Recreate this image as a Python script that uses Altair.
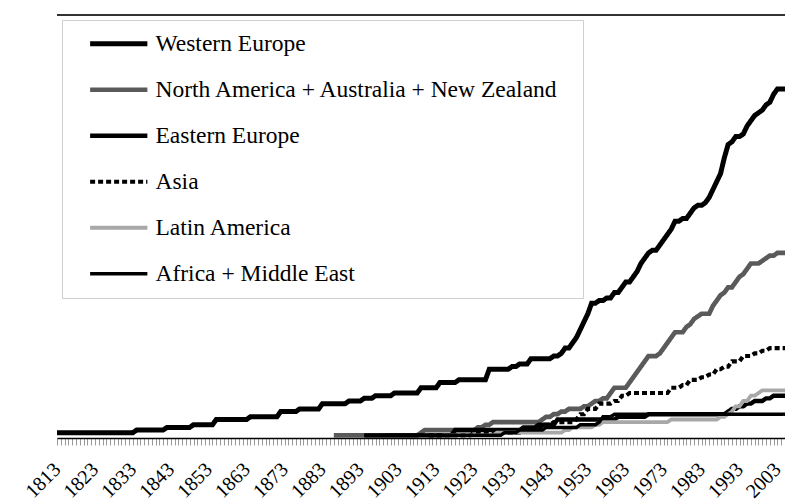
import altair as alt
import pandas as pd

series = ["Western Europe", "North America + Australia + New Zealand", "Eastern Europe",
          "Asia", "Latin America", "Africa + Middle East"]
colors = ["#000000", "#5a5a5a", "#000000", "#000000", "#a8a8a8", "#000000"]
widths = [5, 3.5, 3.5, 1.2, 4, 1.4]
dashes = [[1, 0], [1, 0], [1, 0], [5, 3], [1, 0], [1, 0]]

we_years = [1813, 1834, 1842, 1849, 1855, 1864, 1872, 1877, 1883, 1890, 1894, 1897, 1902, 1909,
            1914, 1919, 1927, 1933, 1935, 1938, 1944, 1946, 1947, 1949, 1950, 1951, 1952, 1953,
            1954, 1956, 1958, 1960, 1962, 1963, 1965, 1966, 1967, 1968, 1969, 1970, 1972, 1973,
            1974, 1975, 1976, 1978, 1980, 1981, 1982, 1984, 1985, 1986, 1987, 1988, 1989, 1990,
            1991, 1992, 1994, 1995, 1996, 1997, 1998, 1999, 2000, 2001, 2002, 2003]
we_vals = [2, 3, 4, 5, 7, 8, 10, 11, 13, 14, 15, 16, 17, 19,
           21, 22, 26, 27, 28, 30, 31, 32, 34, 36, 38, 41, 44, 47,
           51, 52, 53, 55, 57, 59, 61, 63, 66, 68, 70, 71, 73, 75,
           77, 79, 82, 83, 85, 87, 88, 89, 91, 94, 97, 100, 106, 111,
           112, 114, 115, 118, 120, 122, 123, 124, 126, 127, 130, 132]

na_years = [1886, 1909, 1910, 1924, 1926, 1928, 1941, 1942, 1944, 1946, 1948, 1952, 1954, 1955,
            1957, 1959, 1960, 1964, 1965, 1966, 1967, 1968, 1969, 1972, 1973, 1974, 1975, 1976,
            1979, 1980, 1981, 1982, 1983, 1986, 1987, 1988, 1989, 1990, 1992, 1993, 1994, 1995,
            1996, 1999, 2000, 2001, 2003]
na_vals = [1, 2, 3, 4, 5, 6, 7, 8, 9, 10, 11, 12, 13, 14,
           15, 17, 19, 21, 23, 25, 27, 29, 31, 32, 34, 36, 38, 40,
           42, 43, 45, 46, 47, 50, 52, 54, 55, 57, 59, 61, 62, 64,
           66, 67, 68, 69, 70]

ee_years = [1894, 1918, 1936, 1940, 1945, 1961, 1969, 1990, 1991, 1993, 1995, 1997, 2000, 2002]
ee_vals = [1, 3, 4, 5, 7, 8, 9, 10, 11, 12, 13, 14, 15, 16]

asia_years = [1911, 1923, 1937, 1941, 1944, 1950, 1951, 1953, 1956, 1960, 1962, 1964, 1975,
              1978, 1980, 1983, 1985, 1987, 1989, 1991, 1994, 1997, 1999, 2001]
asia_vals = [1, 2, 3, 5, 6, 7, 9, 11, 13, 14, 16, 17, 19,
             20, 22, 23, 24, 26, 27, 29, 31, 32, 33, 34]

la_years = [1915, 1929, 1947, 1949, 1955, 1957, 1975, 1988, 1990, 1991, 1992, 1994, 1996, 1998, 1999]
la_vals = [1, 2, 3, 4, 5, 6, 7, 8, 9, 10, 12, 14, 16, 17, 18]

af_years = [1900, 1931, 1935, 1942, 1951, 1956, 1957, 1960]
af_vals = [1, 2, 3, 4, 5, 6, 8, 9]

END_YEAR = 2006
X_MAX = 2005
year_ticks = list(range(1813, 2006))
y_ticks = [0, 20, 40, 60, 80, 100, 120, 140, 160]

# yearly polyline, as a spreadsheet draws it: a value holds until the year before it changes
rows = []
for name, yrs, vals in zip(series,
                           [we_years, na_years, ee_years, asia_years, la_years, af_years],
                           [we_vals, na_vals, ee_vals, asia_vals, la_vals, af_vals]):
    for i, (yr, v) in enumerate(zip(yrs, vals)):
        if i > 0 and yr - 1 > yrs[i - 1]:
            rows.append({"series": name, "year": yr - 1, "value": vals[i - 1]})
        rows.append({"series": name, "year": yr, "value": v})
    if yrs[-1] < END_YEAR:
        rows.append({"series": name, "year": END_YEAR, "value": vals[-1]})
df = pd.DataFrame(rows)

FONT = "Liberation Serif"

x_enc = alt.X("year:Q",
              scale=alt.Scale(domain=[1813, X_MAX], nice=False, zero=False),
              axis=alt.Axis(values=year_ticks,
                            labelExpr="(datum.value - 1813) % 10 == 0 ? '' + datum.value : ''",
                            labelAngle=-45, labelAlign="right", labelBaseline="middle",
                            labelPadding=21, tickSize=7, tickColor="#9a9a9a", tickWidth=1,
                            domainColor="#000000", domainWidth=1.5, grid=False, title=None,
                            labelFont=FONT, labelFontSize=20, labelColor="#000000",
                            labelOverlap=False, labelFlush=False))
y_enc = alt.Y("value:Q",
              scale=alt.Scale(domain=[0, 160], nice=False),
              axis=alt.Axis(values=y_ticks, tickSize=5, tickColor="#000000", labelPadding=7,
                            domainColor="#222222", domainWidth=2, grid=False, title=None,
                            labelFont=FONT, labelFontSize=22, labelColor="#000000"))

legend = alt.Legend(title="\u00a0", titleOrient="right", titlePadding=12, titleFontSize=8,
                    orient="none", legendX=5, legendY=5,
                    symbolType="M-4,0H4", symbolSize=205, symbolOffset=33,
                    labelFont=FONT, labelFontSize=23.5, labelColor="#000000", labelLimit=700,
                    labelOffset=25, rowPadding=21, padding=12,
                    strokeColor="#cfcfcf", fillColor="#ffffff")

base = alt.Chart(df).mark_line(interpolate="linear", clip=True).encode(
    x=x_enc,
    y=y_enc,
    color=alt.Color("series:N", scale=alt.Scale(domain=series, range=colors), legend=legend),
    strokeWidth=alt.StrokeWidth("series:N", scale=alt.Scale(domain=series, range=widths), legend=legend),
    strokeDash=alt.StrokeDash("series:N", scale=alt.Scale(domain=series, range=dashes), legend=legend),
)

layers = [base.transform_filter(alt.datum.series == name) for name in series]

top = alt.Chart(pd.DataFrame({"v": [160]})).mark_rule(color="#333333", strokeWidth=2).encode(
    y=alt.Y("v:Q", scale=alt.Scale(domain=[0, 160], nice=False), axis=None))

chart = alt.layer(top, *layers).properties(
    width=728, height=423,
    autosize=alt.AutoSizeParams(type="none"),
    padding={"left": 49, "top": 7, "right": 0, "bottom": 75},
).configure_view(stroke=None)

chart.save("out.html", embed_options={"renderer": "svg", "actions": False})
